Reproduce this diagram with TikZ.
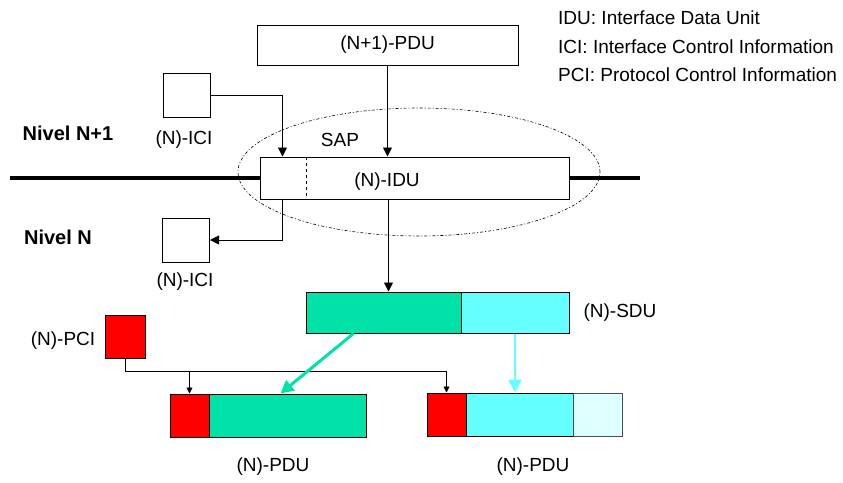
\documentclass[tikz,border=0pt]{standalone}
\usepackage{fontspec}
\setmainfont{Liberation Sans}
\usetikzlibrary{arrows.meta,shapes.geometric}
\definecolor{sdugreen}{RGB}{0,226,168}
\definecolor{sducyan}{RGB}{102,255,255}
\definecolor{pcired}{RGB}{255,0,0}
\definecolor{lightcy}{RGB}{222,255,255}
\tikzset{
  box/.style={draw=black,line width=1pt,inner sep=0pt,rectangle},
  lbl/.style={inner sep=0pt,font=\fontsize{19}{23}\selectfont},
  blbl/.style={inner sep=0pt,font=\fontsize{20}{24}\selectfont\bfseries},
  arr/.style={line width=0.9pt,-{Triangle[length=9pt,width=9pt]}},
  sarr/.style={line width=0.9pt,-{Triangle[length=6pt,width=6pt]}},
  thickline/.style={line width=4pt},
}
\begin{document}
\begin{tikzpicture}[x=1pt,y=-1pt]
\useasboundingbox (0,0) rectangle (843,482);
% legend
\node[lbl,anchor=west] (leg1) at (558,18) {IDU: Interface Data Unit};
\node[lbl,anchor=west] (leg2) at (558,47) {ICI: Interface Control Information};
\node[lbl,anchor=west] (leg3) at (558,75) {PCI: Protocol Control Information};
% level labels
\node[blbl] (n1) at (68,133) {Nivel N+1};
\node[blbl] (n0) at (58,237) {Nivel N};
% (N+1)-PDU
\node[box,minimum width=261pt,minimum height=40pt] (pdup) at (387.5,45) {};
\node[lbl] (pdupL) at (387.5,45) {(N+1)-PDU};
% SAP ellipse
\node[ellipse,draw,line width=0.6pt,dash pattern=on 3pt off 2pt on 1pt off 2pt,minimum width=362pt,minimum height=128pt,inner sep=0pt] (sap) at (419,172) {};
\node[lbl] (sapL) at (340,140) {SAP};
% IDU
\node[box,fill=white,minimum width=309pt,minimum height=42pt] (idu) at (414.5,178) {};
\node[lbl] (iduL) at (387,182) {(N)-IDU};
\draw[line width=0.8pt,dashed] ([xshift=47pt]idu.north west) -- ([xshift=47pt]idu.south west);
% thick layer line
\coordinate (lineL) at (10,178);
\coordinate (lineR) at (640,178);
\draw[thickline] (lineL) -- (idu.west);
\draw[thickline] (idu.east) -- (lineR);
% ICI boxes
\node[box,minimum width=47pt,minimum height=44pt] (iciT) at (186.5,95) {};
\node[lbl] (iciTL) at (184,140) {(N)-ICI};
\node[box,minimum width=47pt,minimum height=44pt] (iciB) at (186,240) {};
\node[lbl] (iciBL) at (185,282) {(N)-ICI};
% arrows around IDU
\draw[arr] (iciT.east) -| ([xshift=23pt]idu.north west);
\draw[arr] (pdup.south) -- (pdup.south |- idu.north);
\draw[arr] ([xshift=23pt]idu.south west) |- (iciB.east);
% SDU
\node[box,fill=sdugreen,minimum width=155pt,minimum height=41pt] (sduG) at (383.5,312.5) {};
\node[box,fill=sducyan,minimum width=108pt,minimum height=41pt] (sduC) at (515,312.5) {};
\node[lbl] (sduL) at (620,313) {(N)-SDU};
\draw[arr] ([xshift=5pt]sduG.north |- idu.south) -- ([xshift=5pt]sduG.north);
% PCI
\node[box,fill=pcired,minimum width=40pt,minimum height=43pt] (pci) at (125,336.5) {};
\node[lbl] (pciL) at (63,341) {(N)-PCI};
% PDU 1
\node[box,fill=pcired,minimum width=39pt,minimum height=43pt] (pduR1) at (189.5,415.5) {};
\node[box,fill=sdugreen,minimum width=157pt,minimum height=43pt] (pduG1) at (287.5,415.5) {};
\node[lbl] (pdu1L) at (273,467) {(N)-PDU};
% PDU 2
\node[box,fill=pcired,minimum width=39pt,minimum height=43pt] (pduR2) at (446.5,414.5) {};
\node[box,fill=sducyan,minimum width=107pt,minimum height=43pt] (pduC2) at (519.5,414.5) {};
\node[box,draw=black!70,fill=lightcy,minimum width=49pt,minimum height=43pt] (pduX2) at (597.5,414.5) {};
\node[lbl] (pdu2L) at (533,467) {(N)-PDU};
% PCI distribution
\coordinate (pciJ) at (125,371);
\draw[line width=0.9pt] (pci.south) -- (pciJ) -- (pciJ -| pduR2.north);
\draw[sarr] (pciJ -| pduR1.north) -- (pduR1.north);
\draw[sarr] (pciJ -| pduR2.north) -- (pduR2.north);
% data arrows
\draw[draw=sdugreen,line width=3pt,-{Triangle[length=13pt,width=13pt]}] ([xshift=-30pt]sduG.south) -- ([xshift=-7pt]pduG1.north);
\draw[draw=sducyan,line width=2.5pt,-{Triangle[length=13pt,width=13pt]}] (sduC.south) -- (sduC.south |- pduC2.north);
\end{tikzpicture}
\end{document}
